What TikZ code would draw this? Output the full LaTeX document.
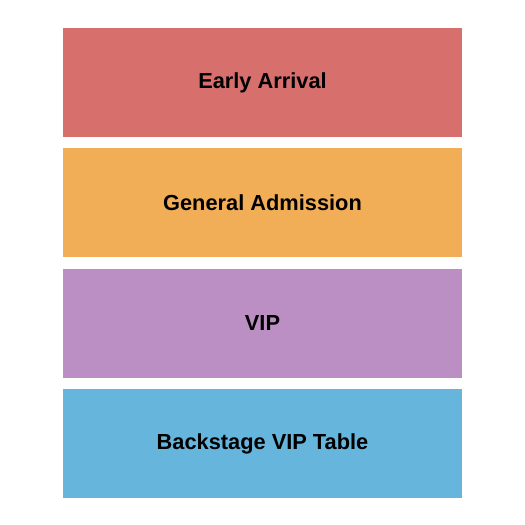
\documentclass[tikz,border=0pt]{standalone}
\usepackage{fontspec}
\setmainfont{Liberation Sans}
\usetikzlibrary{positioning}

\definecolor{early}{RGB}{215,111,108}
\definecolor{general}{RGB}{242,174,86}
\definecolor{vip}{RGB}{187,143,195}
\definecolor{backstage}{RGB}{102,181,220}

\tikzset{
  section/.style={minimum width=399pt,minimum height=109pt,inner sep=0pt,
    font=\fontsize{21.8}{24}\selectfont\bfseries,text=black}
}

\begin{document}
\begin{tikzpicture}[x=1pt,y=1pt]
\useasboundingbox (0,0) rectangle (525,-525);
\node[section,fill=early] (early) at (262.5,-82.5) {Early Arrival};
\node[section,fill=general,below=11pt of early] (general) {General Admission};
\node[section,fill=vip,below=11pt of general] (vip) {VIP};
\node[section,fill=backstage,below=11pt of vip] (backstage) {Backstage VIP Table};

\end{tikzpicture}
\end{document}
